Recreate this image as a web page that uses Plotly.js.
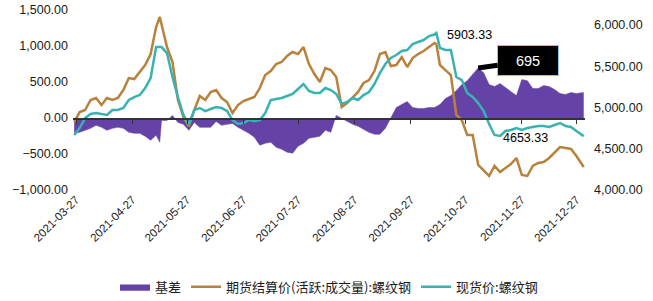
<!DOCTYPE html>
<html><head><meta charset="utf-8">
<script src="https://cdn.plot.ly/plotly-3.0.1.min.js"></script>
<style>html,body{margin:0;padding:0;background:#fff;} #chart{width:653px;height:301px;}</style>
</head><body><div id="chart"></div>
<script>
const dates = ['2021-03-26','2021-03-29','2021-04-01','2021-04-04','2021-04-07','2021-04-10','2021-04-13','2021-04-16','2021-04-19','2021-04-22',
'2021-04-25','2021-04-28','2021-05-01','2021-05-04','2021-05-07','2021-05-10','2021-05-12','2021-05-13','2021-05-16','2021-05-19',
'2021-05-22','2021-05-25','2021-05-28','2021-05-31','2021-06-03','2021-06-06','2021-06-09','2021-06-12','2021-06-15','2021-06-18',
'2021-06-21','2021-06-24','2021-06-27','2021-06-30','2021-07-03','2021-07-06','2021-07-09','2021-07-12','2021-07-15','2021-07-18',
'2021-07-21','2021-07-24','2021-07-27','2021-07-30','2021-08-02','2021-08-05','2021-08-08','2021-08-11','2021-08-14','2021-08-17',
'2021-08-20','2021-08-23','2021-08-26','2021-08-29','2021-09-01','2021-09-04','2021-09-07','2021-09-10','2021-09-13','2021-09-16',
'2021-09-19','2021-09-22','2021-09-25','2021-09-28','2021-10-01','2021-10-04','2021-10-07','2021-10-10','2021-10-11','2021-10-13',
'2021-10-16','2021-10-19','2021-10-22','2021-10-25','2021-10-28','2021-10-31','2021-11-03','2021-11-06','2021-11-09','2021-11-12',
'2021-11-15','2021-11-18','2021-11-21','2021-11-24','2021-11-27','2021-11-30','2021-12-03','2021-12-06','2021-12-09','2021-12-12',
'2021-12-15','2021-12-18','2021-12-21','2021-12-24','2021-12-27','2021-12-30','2021-12-31'];

const basis = [-213,-199,-171,-144,-102,-130,-171,-144,-130,-144,
-199,-213,-213,-254,-309,-240,-337,-33,-33,36,
-61,-88,-171,-61,-130,-130,-130,-47,-102,-88,
-75,-130,-171,-213,-268,-378,-351,-337,-406,-434,
-475,-489,-392,-351,-282,-268,-254,-171,-199,36,
-6,-47,-88,-116,-157,-199,-226,-226,-144,-6,
146,188,229,146,133,133,146,146,160,188,
271,312,381,464,519,602,695,630,464,436,
478,423,367,312,533,519,409,409,450,436,
395,340,326,354,340,354,354];

const futures = [4824,4945,4970,5091,5115,5030,5115,5091,5115,5212,
5357,5345,5430,5515,5648,5976,6097,6000,5733,5551,
5091,4885,4770,4970,5139,5091,5188,5212,5115,5067,
4933,5030,5079,5103,5127,5236,5394,5442,5527,5551,
5624,5673,5648,5733,5527,5406,5309,5479,5454,5370,
5006,5054,5127,5188,5297,5333,5442,5648,5673,5503,
5515,5612,5491,5600,5648,5685,5733,5782,5770,5515,
5454,5394,4909,4848,4667,4667,4303,4230,4170,4291,
4218,4267,4315,4388,4182,4170,4291,4327,4339,4388,
4461,4521,4509,4497,4412,4315,4279];

const spot = [4667,4751,4873,4921,4933,4921,4909,4970,4970,4994,
5091,5127,5151,5236,5357,5733,5733,5733,5660,5370,
5127,4909,4800,4970,4994,4957,4982,5006,4994,4957,
4848,4800,4812,4848,4836,4848,4933,5091,5103,5115,
5139,5164,5224,5285,5200,5176,5176,5236,5212,5164,
5042,5067,5115,5091,5151,5188,5285,5418,5527,5600,
5636,5685,5697,5770,5794,5818,5866,5885,5903.33,5721,
5697,5697,5370,5333,5176,5127,5054,4957,4800,4667,
4655,4715,4727,4751,4727,4751,4764,4776,4776,4764,
4788,4812,4776,4764,4715,4667,4653.33];

const tickDates = ['2021-03-27','2021-04-27','2021-05-27','2021-06-27','2021-07-27','2021-08-27','2021-09-27','2021-10-27','2021-11-27','2021-12-27'];
const tickLabels = tickDates.slice();

const seriesNames = ['基差','期货结算价(活跃:成交量):螺纹钢','现货价:螺纹钢'];

const C_PURPLE = '#6542a6', C_BROWN = '#b8823c', C_TEAL = '#38b2b2';
const tickFont = {family:'Liberation Sans, Arial, sans-serif', size:12.5, color:'#1a1a1a'};

const traces = [
  {x:dates, y:basis, name:seriesNames[0], type:'scatter', mode:'lines', fill:'tozeroy',
   fillcolor:C_PURPLE, line:{color:C_PURPLE, width:0.5}, yaxis:'y', xaxis:'x'},
  {x:dates, y:futures, name:seriesNames[1], type:'scatter', mode:'lines',
   line:{color:C_BROWN, width:2.5}, yaxis:'y2', xaxis:'x'},
  {x:dates, y:spot, name:seriesNames[2], type:'scatter', mode:'lines',
   line:{color:C_TEAL, width:2.5}, yaxis:'y2', xaxis:'x'},
  {x:[dates[0]], y:[0], type:'scatter', mode:'markers', marker:{opacity:0}, showlegend:false,
   hoverinfo:'skip', xaxis:'x2', yaxis:'y'}
];

const xr = ['2021-03-25 08:00','2021-12-31 17:00'];
const iMaxSpot = spot.indexOf(Math.max(...spot));
const iMaxBasis = basis.indexOf(Math.max(...basis));
const iLast = spot.length - 1;
const annFont = {family:'Liberation Sans, Arial, sans-serif', size:12.5, color:'#000'};

const layout = {
  width:653, height:301,
  margin:{l:73, r:68, t:10, b:111},
  paper_bgcolor:'#fff', plot_bgcolor:'#fff',
  showlegend:true,
  xaxis:{type:'date', range:xr, tickvals:tickDates, ticktext:tickLabels, tickangle:-45,
    tickfont:{family:'Liberation Sans, Arial, sans-serif', size:11.5, color:'#1a1a1a'},
    showgrid:false, showline:false, zeroline:false, ticks:'', anchor:'y', automargin:false},
  xaxis2:{type:'date', range:xr, overlaying:'x', anchor:'free', position:0.4,
    tickvals:tickDates, showticklabels:false, ticks:'outside', ticklen:4, tickcolor:'#333', tickwidth:1,
    showline:true, linecolor:'#333', linewidth:1.5, showgrid:false, zeroline:false},
  yaxis:{range:[-1000,1500], dtick:500, tick0:0, tickformat:',.2f', tickfont:tickFont,
    showgrid:false, zeroline:false, showline:false, ticks:'', automargin:false, ticklabelstandoff:4},
  yaxis2:{range:[4000,6182], dtick:500, tick0:4000, tickformat:',.2f', tickfont:tickFont,
    overlaying:'y', side:'right', showgrid:false, zeroline:false, showline:false, ticks:'',
    automargin:false, ticklabelstandoff:8},
  legend:{orientation:'h', x:0.5, xanchor:'center', yref:'container', y:0.047, yanchor:'middle',
    font:{family:'Noto Sans CJK SC, sans-serif', size:13, color:'#1a1a1a'}, bgcolor:'rgba(0,0,0,0)',
    traceorder:'normal'},
  annotations:[
    {x:dates[iMaxSpot], y:spot[iMaxSpot], xref:'x', yref:'y2', text:String(spot[iMaxSpot].toFixed(2)),
     showarrow:false, xshift:33, yshift:-2, font:annFont},
    {x:dates[iLast], y:spot[iLast], xref:'x', yref:'y2', text:String(spot[iLast].toFixed(2)),
     showarrow:false, xshift:-58, yshift:-2, font:annFont},
    {x:dates[iMaxBasis], y:basis[iMaxBasis], xref:'x', yref:'y', text:String(basis[iMaxBasis]),
     showarrow:true, arrowhead:0, arrowwidth:5, arrowcolor:'#000', standoff:0, ax:50, ay:-7,
     bgcolor:'#000', bordercolor:'#8cc4ea', borderwidth:1, borderpad:6, width:48, height:17,
     font:{family:'Liberation Sans, Arial, sans-serif', size:14.5, color:'#fff'}}
  ]
};

Plotly.newPlot('chart', traces, layout, {displayModeBar:false, staticPlot:true});
</script>
</body></html>
